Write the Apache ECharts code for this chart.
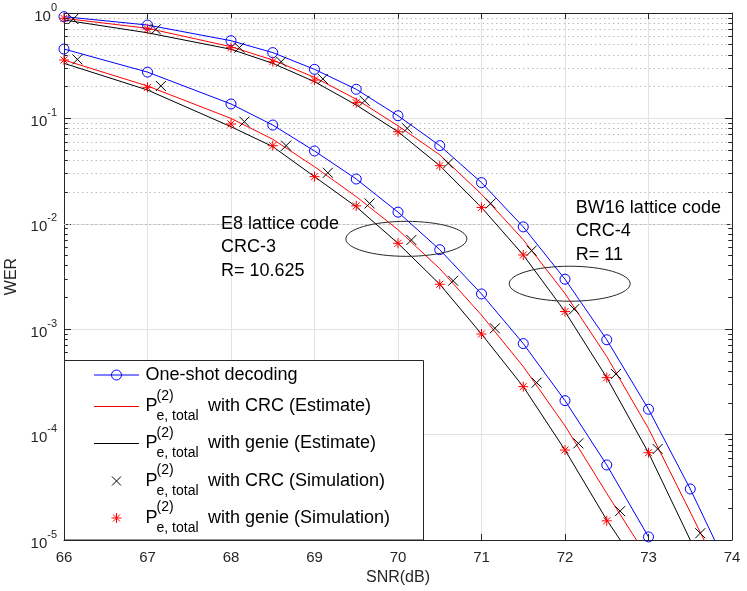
<!DOCTYPE html>
<html>
<head>
<meta charset="utf-8">
<script src="https://cdn.jsdelivr.net/npm/echarts@6/dist/echarts.min.js"></script>
<style>
  html, body { margin: 0; padding: 0; background: #fff; }
  #main { width: 747px; height: 591px; }
</style>
</head>
<body>
<div id="main"></div>
<script>
"use strict";

// SNR grids (dB)
const snrE8 = [66, 67, 68, 68.5, 69, 69.5, 70, 70.5, 71, 71.5, 72, 72.5, 73];
const snrBW16 = [66, 67, 68, 68.5, 69, 69.5, 70, 70.5, 71, 71.5, 72, 72.5, 73, 73.5, 74];
const snrE8GenieSim = [66, 67, 68, 68.5, 69, 69.5, 70, 70.5, 71, 71.5, 72, 72.5];
const snrBW16GenieSim = [66, 67, 68, 68.5, 69, 69.5, 70, 70.5, 71, 71.5, 72, 72.5, 73];
// CRC simulation points are drawn slightly to the right
const snrE8CrcSim = [66.16, 67.16, 68.16, 68.66, 69.16, 69.66, 70.16, 70.66, 71.16, 71.66, 72.16, 72.66];
const snrBW16CrcSim = [66.11, 67.1, 68.1, 68.6, 69.1, 69.6, 70.11, 70.6, 71.11, 71.6, 72.11, 72.61, 73.11, 73.62];

// E8 lattice code, CRC-3
const e8OneShot = [0.455, 0.275, 0.137, 0.0865, 0.0491, 0.0266, 0.0129, 0.00568, 0.00216, 7.3e-4, 2.1e-4, 5.15e-5, 1.07e-5];
const e8CrcEst = [0.358, 0.203, 0.100, 0.0634, 0.0348, 0.0181, 0.00879, 0.00375, 0.00136, 4.42e-4, 1.21e-4, 2.77e-5, 6.6e-6];
const e8GenieEst = [0.333, 0.186, 0.0834, 0.054, 0.028, 0.0145, 0.00653, 0.00267, 9.0e-4, 2.85e-4, 7.14e-5, 1.55e-5, 3.98e-6];
const e8CrcSim = [0.363, 0.203, 0.0931, 0.0551, 0.0305, 0.0156, 0.00702, 0.00288, 0.00102, 3.11e-4, 8.26e-5, 1.88e-5];
const e8GenieSim = [0.358, 0.197, 0.0885, 0.0551, 0.028, 0.0148, 0.00653, 0.00267, 9.0e-4, 2.85e-4, 7.14e-5, 1.52e-5];

// BW16 lattice code, CRC-4
const bw16OneShot = [0.923, 0.769, 0.546, 0.421, 0.292, 0.189, 0.106, 0.0552, 0.0246, 0.00935, 0.00298, 7.94e-4, 1.74e-4, 3.05e-5, 4.5e-6];
const bw16CrcEst = [0.891, 0.716, 0.479, 0.358, 0.245, 0.152, 0.0851, 0.0451, 0.0191, 0.00706, 0.00218, 5.5e-4, 1.14e-4, 1.84e-5, 2.9e-6];
const bw16GenieEst = [0.859, 0.649, 0.453, 0.333, 0.223, 0.134, 0.0748, 0.0356, 0.0143, 0.00506, 0.00147, 3.47e-4, 6.73e-5, 1.0e-5, 1.6e-6];
const bw16CrcSim = [0.877, 0.70, 0.469, 0.345, 0.237, 0.147, 0.0805, 0.0375, 0.0156, 0.00556, 0.00155, 3.76e-4, 7.3e-5, 1.16e-5];
const bw16GenieSim = [0.891, 0.705, 0.469, 0.345, 0.231, 0.141, 0.0748, 0.0356, 0.0143, 0.00506, 0.00147, 3.47e-4, 6.73e-5];

// axis
const yDecades = [1e-5, 1e-4, 1e-3, 1e-2, 1e-1, 1];
const minorMult = [2, 3, 4, 5, 6, 7, 8, 9];

// annotations (data coordinates)
const notes = [
    { lines: ['E8 lattice code', 'CRC-3', 'R= 10.625'], at: [67.88, 9.93e-3] },
    { lines: ['BW16 lattice code', 'CRC-4', 'R= 11'], at: [72.13, 1.406e-2] }
];
const ellipses = [
    { at: [70.10, 7.2e-3], rx: 60.5, ry: 17.5 },
    { at: [72.056, 2.7e-3], rx: 60.5, ry: 17.5 }
];

const FONT = '"Liberation Sans", Arial, Helvetica, sans-serif';
const AX = '#262626';
const BLUE = '#0000ff', RED = '#ff0000', BLACK = '#000000';
const CROSS = 'path://M0,0L10,10M10,0L0,10';
const STAR = 'path://M5,0L5,10M0,5L10,5M1.5,1.5L8.5,8.5M8.5,1.5L1.5,8.5';

function zip(xs, ys) {
    return ys.map(function (y, i) { return [xs[i], y]; });
}

function lineSeries(xs, ys, color, withCircle) {
    return {
        type: 'line',
        data: zip(xs, ys),
        symbol: withCircle ? 'circle' : 'none',
        symbolSize: 10,
        showAllSymbol: true,
        itemStyle: { color: 'none', borderColor: color, borderWidth: 1 },
        lineStyle: { color: color, width: 1 },
        silent: true,
        z: 2
    };
}

function markSeries(xs, ys, symbol, color) {
    return {
        type: 'scatter',
        data: zip(xs, ys),
        symbol: symbol,
        symbolSize: 10,
        itemStyle: { color: 'none', borderColor: color, borderWidth: 1, opacity: 1 },
        silent: true,
        z: 3
    };
}

// minor grid + minor ticks (2..9 x 10^k)
const minorGrid = [];
const minorTicks = [];
yDecades.slice(0, -1).forEach(function (d) {
    minorMult.forEach(function (m) {
        const v = d * m;
        minorGrid.push({ yAxis: v });
        minorTicks.push([{ coord: [66, v] }, { coord: [66.045, v] }]);
        minorTicks.push([{ coord: [73.955, v] }, { coord: [74, v] }]);
    });
});

const chart = echarts.init(document.getElementById('main'), null, { renderer: 'canvas' });

const xAxisBase = {
    type: 'value', min: 66, max: 74, interval: 1,
    axisLine: { lineStyle: { color: AX, width: 1 } },
    axisTick: { inside: true, length: 6, lineStyle: { color: AX } },
    splitLine: { show: false }
};
const yAxisBase = {
    type: 'log', logBase: 10, min: 1e-5, max: 1,
    axisLine: { show: true, lineStyle: { color: AX, width: 1 } },
    axisTick: { show: true, inside: true, length: 7, lineStyle: { color: AX } },
    splitLine: { show: false }
};

const option = {
    animation: false,
    backgroundColor: '#fff',
    textStyle: { fontFamily: FONT },
    grid: { left: 64, right: 15, top: 13, bottom: 51, containLabel: false, outerBoundsMode: 'none' },
    xAxis: [
        Object.assign({}, xAxisBase, {
            position: 'bottom',
            name: 'SNR(dB)', nameLocation: 'middle', nameGap: 30,
            nameTextStyle: { color: AX, fontSize: 16, fontFamily: FONT },
            axisLabel: { color: AX, fontSize: 15, margin: 10, fontFamily: FONT },
            splitLine: { show: true, lineStyle: { color: '#e2e2e2', width: 1 } }
        }),
        Object.assign({}, xAxisBase, { position: 'top', axisLabel: { show: false } })
    ],
    yAxis: [
        Object.assign({}, yAxisBase, {
            position: 'left',
            name: 'WER', nameLocation: 'middle', nameGap: 40,
            nameTextStyle: { color: AX, fontSize: 16, fontFamily: FONT },
            axisLabel: {
                color: AX, margin: 7, fontFamily: FONT,
                formatter: function (v) {
                    const e = Math.round(Math.log10(v));
                    return '{b|10}{s|' + e + '}';
                },
                rich: {
                    b: { fontSize: 15, color: AX, fontFamily: FONT, lineHeight: 22, verticalAlign: 'bottom' },
                    s: { fontSize: 11, color: AX, fontFamily: FONT, lineHeight: 22, verticalAlign: 'top' }
                }
            },
            splitLine: { show: true, lineStyle: { color: '#e2e2e2', width: 1 } }
        }),
        Object.assign({}, yAxisBase, { position: 'right', axisLabel: { show: false } })
    ],
    series: [
        {
            type: 'line', data: [], silent: true,
            markLine: {
                silent: true, symbol: ['none', 'none'], animation: false, z: 1,
                label: { show: false },
                lineStyle: { color: '#bdbdbd', width: 1, type: [1.5, 3] },
                emphasis: { disabled: true },
                data: minorGrid
            }
        },
        {
            type: 'line', data: [], silent: true,
            markLine: {
                silent: true, symbol: ['none', 'none'], animation: false, z: 4,
                label: { show: false },
                lineStyle: { color: AX, width: 1, type: 'solid' },
                emphasis: { disabled: true },
                data: minorTicks
            }
        },
        lineSeries(snrE8, e8OneShot, BLUE, true),
        lineSeries(snrBW16, bw16OneShot, BLUE, true),
        lineSeries(snrE8, e8CrcEst, RED, false),
        lineSeries(snrBW16, bw16CrcEst, RED, false),
        lineSeries(snrE8, e8GenieEst, BLACK, false),
        lineSeries(snrBW16, bw16GenieEst, BLACK, false),
        markSeries(snrE8CrcSim, e8CrcSim, CROSS, BLACK),
        markSeries(snrBW16CrcSim, bw16CrcSim, CROSS, BLACK),
        markSeries(snrE8GenieSim, e8GenieSim, STAR, RED),
        markSeries(snrBW16GenieSim, bw16GenieSim, STAR, RED)
    ]
};

chart.setOption(option);

// annotations and legend, placed from the axes
const graphics = [];
const px = function (p) { return chart.convertToPixel({ gridIndex: 0 }, p); };

notes.forEach(function (n) {
    const p = px(n.at);
    n.lines.forEach(function (t, i) {
        graphics.push({
            type: 'text', x: p[0], y: p[1] + i * 23.3, z: 20, silent: true,
            style: { text: t, fill: '#000', font: '18px ' + FONT, verticalAlign: 'middle' }
        });
    });
});
ellipses.forEach(function (e) {
    const p = px(e.at);
    graphics.push({
        type: 'ellipse', z: 20, silent: true,
        shape: { cx: p[0], cy: p[1], rx: e.rx, ry: e.ry },
        style: { fill: 'none', stroke: AX, lineWidth: 1 }
    });
});

// legend box
const corner = px([66, 1e-5]);
const bx = corner[0], by = corner[1] - 180, bw = 359, bh = 180;
graphics.push({
    type: 'rect', z: 30, silent: true,
    shape: { x: bx + 0.5, y: by + 0.5, width: bw, height: bh - 0.5 },
    style: { fill: '#fff', stroke: AX, lineWidth: 1 }
});
const legendRows = [
    { dy: 15, kind: 'line', color: BLUE, circle: true, text: 'One-shot decoding' },
    { dy: 46.5, kind: 'line', color: RED, p: true, text: 'with CRC (Estimate)' },
    { dy: 83.5, kind: 'line', color: BLACK, p: true, text: 'with genie (Estimate)' },
    { dy: 121, kind: 'cross', p: true, text: 'with CRC (Simulation)' },
    { dy: 158, kind: 'star', p: true, text: 'with genie (Simulation)' }
];
legendRows.forEach(function (r) {
    const cy = by + r.dy;
    const mx = bx + 52.5;
    if (r.kind === 'line') {
        graphics.push({ type: 'line', z: 31, silent: true, shape: { x1: bx + 30, y1: cy, x2: bx + 75, y2: cy }, style: { stroke: r.color, lineWidth: 1 } });
        if (r.circle) {
            graphics.push({ type: 'circle', z: 32, silent: true, shape: { cx: mx, cy: cy, r: 5 }, style: { fill: 'none', stroke: r.color, lineWidth: 1 } });
        }
    } else if (r.kind === 'cross') {
        graphics.push({ type: 'polyline', z: 31, silent: true, shape: { points: [[mx - 4.5, cy - 4.5], [mx + 4.5, cy + 4.5]] }, style: { stroke: BLACK, lineWidth: 1, fill: 'none' } });
        graphics.push({ type: 'polyline', z: 31, silent: true, shape: { points: [[mx + 4.5, cy - 4.5], [mx - 4.5, cy + 4.5]] }, style: { stroke: BLACK, lineWidth: 1, fill: 'none' } });
    } else if (r.kind === 'star') {
        [[0, -5, 0, 5], [-5, 0, 5, 0], [-3.5, -3.5, 3.5, 3.5], [3.5, -3.5, -3.5, 3.5]].forEach(function (s) {
            graphics.push({ type: 'line', z: 31, silent: true, shape: { x1: mx + s[0], y1: cy + s[1], x2: mx + s[2], y2: cy + s[3] }, style: { stroke: RED, lineWidth: 1 } });
        });
    }
    if (r.p) {
        graphics.push({ type: 'text', z: 31, silent: true, x: bx + 81.5, y: cy, style: { text: 'P', fill: '#000', font: '18px ' + FONT, verticalAlign: 'middle' } });
        graphics.push({ type: 'text', z: 31, silent: true, x: bx + 92.5, y: cy - 10.5, style: { text: '(2)', fill: '#000', font: '14px ' + FONT, verticalAlign: 'middle' } });
        graphics.push({ type: 'text', z: 31, silent: true, x: bx + 92.5, y: cy + 10, style: { text: 'e, total', fill: '#000', font: '14px ' + FONT, verticalAlign: 'middle' } });
        graphics.push({ type: 'text', z: 31, silent: true, x: bx + 144, y: cy, style: { text: r.text, fill: '#000', font: '18px ' + FONT, verticalAlign: 'middle' } });
    } else {
        graphics.push({ type: 'text', z: 31, silent: true, x: bx + 81.5, y: cy, style: { text: r.text, fill: '#000', font: '18px ' + FONT, verticalAlign: 'middle' } });
    }
});

chart.setOption({ graphic: graphics });
</script>
</body>
</html>
